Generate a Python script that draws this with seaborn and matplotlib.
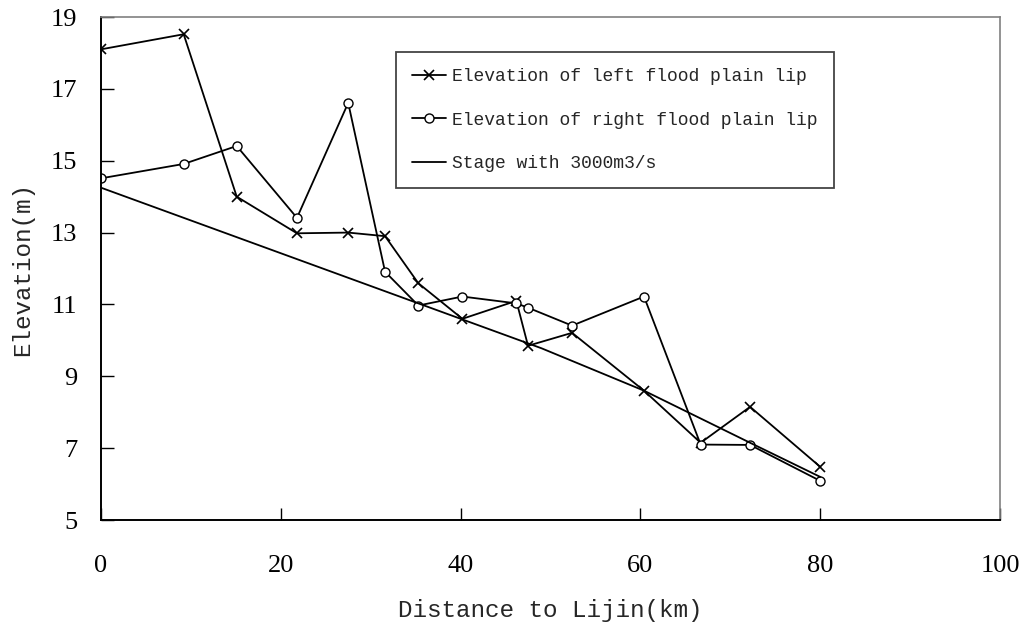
import numpy as np
import pandas as pd
import matplotlib
matplotlib.use("Agg")
import matplotlib.pyplot as plt
import seaborn as sns

# values
dist = [0, 9.2, 15.1, 21.8, 27.5, 31.6, 35.3, 40.2, 46.2, 47.5, 52.4, 60.4, 66.7, 72.2, 80]
left_lip = [18.1, 18.52, 14.0, 12.98, 13.0, 12.9, 11.59, 10.6, 11.1, 9.85, 10.21, 8.6, 7.15, 8.15, 6.48]
right_lip = [14.51, 14.91, 15.41, 13.41, 16.61, 11.91, 10.97, 11.22, 11.03, 10.91, 10.41, 11.22, 7.1, 7.09, 6.09]
stage_dist = [0, 49, 60.4, 72.2, 80]
stage = [14.25, 9.78, 8.6, 7.15, 6.2]

labels = ["Elevation of left flood plain lip",
          "Elevation of right flood plain lip",
          "Stage with 3000m3/s"]
xticks = [0, 20, 40, 60, 80, 100]
yticks = [5, 7, 9, 11, 13, 15, 17, 19]

sns.set_style("ticks")
plt.rcParams['font.family'] = ['Liberation Mono', 'DejaVu Sans']

fig = plt.figure(figsize=(10.26, 6.23), dpi=100)
ax = fig.add_axes([0.0984, 0.1653, 0.8763, 0.8074])

sns.lineplot(x=dist, y=left_lip, ax=ax, color="black", lw=1.3,
             marker="x", markersize=7, mec="black", mew=1.2, label=labels[0])
sns.lineplot(x=dist, y=right_lip, ax=ax, color="black", lw=1.3,
             marker="o", markersize=6.5, mfc="white", mec="black", mew=1.0,
             label=labels[1])
sns.lineplot(x=stage_dist, y=stage, ax=ax, color="black", lw=1.3, label=labels[2])

ax.set_xlim(0, 100)
ax.set_ylim(5, 19)
ax.set_xticks(xticks)
ax.set_yticks(yticks)
ax.tick_params(direction="in", length=9, width=1, colors="black")
ax.tick_params(axis="y", pad=17)
ax.tick_params(axis="x", pad=25)
for lab in ax.get_xticklabels() + ax.get_yticklabels():
    lab.set_family("Liberation Serif")
    lab.set_fontsize(19)

for side in ["left", "bottom"]:
    ax.spines[side].set_color("black")
    ax.spines[side].set_linewidth(1.4)
for side in ["top", "right"]:
    ax.spines[side].set_color("#808080")
    ax.spines[side].set_linewidth(1.2)

ax.set_xlabel("Distance to Lijin(km)", fontsize=17.5, labelpad=16)
ax.set_ylabel("Elevation(m)", fontsize=17.5, labelpad=12)

leg = ax.legend(loc="upper left", bbox_to_anchor=(0.328, 0.930), borderaxespad=0,
                fontsize=13, frameon=True, fancybox=False, edgecolor="#444444",
                handlelength=1.85, handletextpad=0.35, labelspacing=1.45,
                borderpad=0.9, framealpha=1)
leg.get_frame().set_linewidth(1.3)

fig.savefig("out.png", dpi=100)
